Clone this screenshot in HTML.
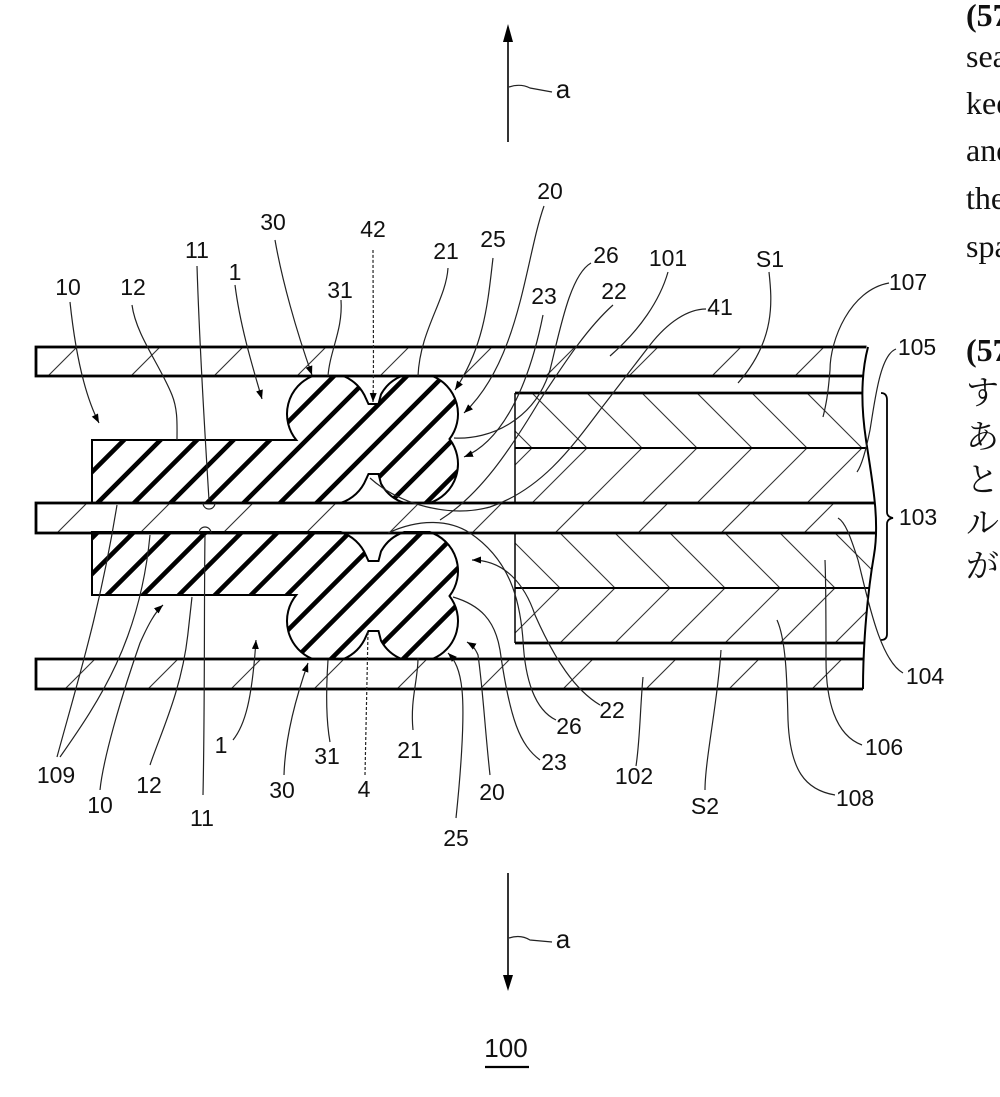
<!DOCTYPE html>
<html><head><meta charset="utf-8"><style>
html,body{margin:0;padding:0;background:#fff;width:1000px;height:1097px;overflow:hidden}
svg{display:block}
.lb{font-family:"Liberation Sans",Arial,sans-serif;font-size:23px;fill:#111;text-anchor:middle}
.ld{fill:none;stroke:#222;stroke-width:1.2}
.ht{stroke:#333;stroke-width:1.1}
.sh{stroke:#000;stroke-width:4.6}
.ol{stroke:#000;stroke-width:2.8;fill:none}
.tx{font-family:"Liberation Serif","Noto Serif CJK SC",serif;font-size:32px;fill:#111}
.jp{font-family:"Noto Serif CJK SC","Noto Sans CJK JP",serif;font-size:33px;fill:#111}
</style></head><body>
<svg width="1000" height="1097" viewBox="0 0 1000 1097" xmlns="http://www.w3.org/2000/svg">
<defs>
<marker id="ar" markerUnits="userSpaceOnUse" markerWidth="10" markerHeight="8" refX="9" refY="4" orient="auto">
<path d="M0,0.5 L9,4 L0,7.5 Z" fill="#000"/>
</marker>
<path id="sealU" d="M92,440 L296.3,440 A41,41 0 0 1 312.6,376 L343.4,376 A41,41 0 0 1 366,398.6 L368.5,404 L378.5,404 L381,394.4 A41,41 0 0 1 401.6,376 L432.4,376 A41,41 0 0 1 449.5,439 A41,41 0 0 1 429.6,503 L404.4,503 A41,41 0 0 1 381,483.6 L378.5,474 L368.5,474 L366,479.4 A41,41 0 0 1 340.6,503 L92,503 Z"/>
<clipPath id="cu"><path d="M92,440 L296.3,440 A41,41 0 0 1 312.6,376 L343.4,376 A41,41 0 0 1 366,398.6 L368.5,404 L378.5,404 L381,394.4 A41,41 0 0 1 401.6,376 L432.4,376 A41,41 0 0 1 449.5,439 A41,41 0 0 1 429.6,503 L404.4,503 A41,41 0 0 1 381,483.6 L378.5,474 L368.5,474 L366,479.4 A41,41 0 0 1 340.6,503 L92,503 Z"/></clipPath>
<clipPath id="cl"><path transform="matrix(1,0,0,-1,0,1035)" d="M92,440 L296.3,440 A41,41 0 0 1 312.6,376 L343.4,376 A41,41 0 0 1 366,398.6 L368.5,404 L378.5,404 L381,394.4 A41,41 0 0 1 401.6,376 L432.4,376 A41,41 0 0 1 449.5,439 A41,41 0 0 1 429.6,503 L404.4,503 A41,41 0 0 1 381,483.6 L378.5,474 L368.5,474 L366,479.4 A41,41 0 0 1 340.6,503 L92,503 Z"/></clipPath>
<clipPath id="cp1"><rect x="36" y="347" width="846" height="29"/></clipPath>
<clipPath id="cp2"><rect x="36" y="503" width="846" height="30"/></clipPath>
<clipPath id="cp3"><rect x="36" y="659" width="846" height="30"/></clipPath>
<clipPath id="cb1"><rect x="515" y="393" width="367" height="110"/></clipPath>
<clipPath id="cb2"><rect x="515" y="533" width="367" height="110"/></clipPath>
</defs>

<!-- plate hatching -->
<g class="ht" clip-path="url(#cp1)">
<line x1="48" y1="376" x2="77" y2="347"/><line x1="131" y1="376" x2="160" y2="347"/><line x1="214" y1="376" x2="243" y2="347"/><line x1="297" y1="376" x2="326" y2="347"/><line x1="380" y1="376" x2="409" y2="347"/><line x1="463" y1="376" x2="492" y2="347"/><line x1="546" y1="376" x2="575" y2="347"/><line x1="629" y1="376" x2="658" y2="347"/><line x1="712" y1="376" x2="741" y2="347"/><line x1="795" y1="376" x2="824" y2="347"/>
</g>
<g class="ht" clip-path="url(#cp2)">
<line x1="57" y1="533" x2="87" y2="503"/><line x1="140" y1="533" x2="170" y2="503"/><line x1="223" y1="533" x2="253" y2="503"/><line x1="306" y1="533" x2="336" y2="503"/><line x1="389" y1="533" x2="419" y2="503"/><line x1="472" y1="533" x2="502" y2="503"/><line x1="555" y1="533" x2="585" y2="503"/><line x1="638" y1="533" x2="668" y2="503"/><line x1="721" y1="533" x2="751" y2="503"/><line x1="804" y1="533" x2="834" y2="503"/>
</g>
<g class="ht" clip-path="url(#cp3)">
<line x1="65" y1="689" x2="95" y2="659"/><line x1="148" y1="689" x2="178" y2="659"/><line x1="231" y1="689" x2="261" y2="659"/><line x1="314" y1="689" x2="344" y2="659"/><line x1="397" y1="689" x2="427" y2="659"/><line x1="480" y1="689" x2="510" y2="659"/><line x1="563" y1="689" x2="593" y2="659"/><line x1="646" y1="689" x2="676" y2="659"/><line x1="729" y1="689" x2="759" y2="659"/><line x1="812" y1="689" x2="842" y2="659"/>
</g>

<!-- block chevron hatching -->
<g class="ht" clip-path="url(#cb1)">
<line x1="477" y1="393" x2="532" y2="448"/><line x1="532" y1="393" x2="587" y2="448"/><line x1="587" y1="393" x2="642" y2="448"/><line x1="642" y1="393" x2="697" y2="448"/><line x1="697" y1="393" x2="752" y2="448"/><line x1="752" y1="393" x2="807" y2="448"/><line x1="807" y1="393" x2="862" y2="448"/>
<line x1="532" y1="448" x2="477" y2="503"/><line x1="587" y1="448" x2="532" y2="503"/><line x1="642" y1="448" x2="587" y2="503"/><line x1="697" y1="448" x2="642" y2="503"/><line x1="752" y1="448" x2="697" y2="503"/><line x1="807" y1="448" x2="752" y2="503"/><line x1="862" y1="448" x2="807" y2="503"/>
</g>
<g class="ht" clip-path="url(#cb2)">
<line x1="505" y1="533" x2="560" y2="588"/><line x1="560" y1="533" x2="615" y2="588"/><line x1="615" y1="533" x2="670" y2="588"/><line x1="670" y1="533" x2="725" y2="588"/><line x1="725" y1="533" x2="780" y2="588"/><line x1="780" y1="533" x2="835" y2="588"/><line x1="835" y1="533" x2="890" y2="588"/>
<line x1="560" y1="588" x2="505" y2="643"/><line x1="615" y1="588" x2="560" y2="643"/><line x1="670" y1="588" x2="615" y2="643"/><line x1="725" y1="588" x2="670" y2="643"/><line x1="780" y1="588" x2="725" y2="643"/><line x1="835" y1="588" x2="780" y2="643"/><line x1="890" y1="588" x2="835" y2="643"/>
</g>

<!-- seals -->
<use href="#sealU" fill="#fff"/>
<use href="#sealU" fill="#fff" transform="matrix(1,0,0,-1,0,1035)"/>
<g class="sh" clip-path="url(#cu)">
<line x1="84.5" y1="370" x2="-55.5" y2="510"/><line x1="121" y1="370" x2="-19" y2="510"/><line x1="157.5" y1="370" x2="17.5" y2="510"/><line x1="194" y1="370" x2="54" y2="510"/><line x1="230.5" y1="370" x2="90.5" y2="510"/><line x1="267" y1="370" x2="127" y2="510"/><line x1="303.5" y1="370" x2="163.5" y2="510"/><line x1="340" y1="370" x2="200" y2="510"/><line x1="376.5" y1="370" x2="236.5" y2="510"/><line x1="413" y1="370" x2="273" y2="510"/><line x1="449.5" y1="370" x2="309.5" y2="510"/><line x1="486" y1="370" x2="346" y2="510"/><line x1="522.5" y1="370" x2="382.5" y2="510"/><line x1="559" y1="370" x2="419" y2="510"/><line x1="595.5" y1="370" x2="455.5" y2="510"/>
</g>
<g class="sh" clip-path="url(#cl)">
<line x1="105" y1="525" x2="-35" y2="665"/><line x1="141" y1="525" x2="1" y2="665"/><line x1="177" y1="525" x2="37" y2="665"/><line x1="213" y1="525" x2="73" y2="665"/><line x1="249" y1="525" x2="109" y2="665"/><line x1="285" y1="525" x2="145" y2="665"/><line x1="321" y1="525" x2="181" y2="665"/><line x1="357" y1="525" x2="217" y2="665"/><line x1="393" y1="525" x2="253" y2="665"/><line x1="429" y1="525" x2="289" y2="665"/><line x1="465" y1="525" x2="325" y2="665"/><line x1="501" y1="525" x2="361" y2="665"/><line x1="537" y1="525" x2="397" y2="665"/><line x1="573" y1="525" x2="433" y2="665"/><line x1="609" y1="525" x2="469" y2="665"/>
</g>
<use href="#sealU" fill="none" stroke="#000" stroke-width="2"/>
<use href="#sealU" fill="none" stroke="#000" stroke-width="2" transform="matrix(1,0,0,-1,0,1035)"/>

<!-- plates -->
<rect x="36" y="347" width="846" height="29" class="ol"/>
<rect x="36" y="503" width="846" height="30" class="ol"/>
<rect x="36" y="659" width="846" height="30" class="ol"/>
<!-- block -->
<g stroke="#000" fill="none">
<line x1="515" y1="393" x2="882" y2="393" stroke-width="2.8"/>
<line x1="515" y1="448" x2="882" y2="448" stroke-width="2"/>
<line x1="515" y1="588" x2="882" y2="588" stroke-width="2"/>
<line x1="515" y1="643" x2="882" y2="643" stroke-width="2.8"/>
<line x1="515" y1="393" x2="515" y2="503" stroke-width="1.5"/>
<line x1="515" y1="533" x2="515" y2="643" stroke-width="1.5"/>
</g>
<!-- break mask -->
<path d="M868,338 C862,370 860,400 866,440 C872,480 880,520 874,555 C868,590 863,640 863,698 L884,698 L884,338 Z" fill="#fff"/>
<path d="M868,347 C862,370 860,400 866,440 C872,480 880,520 874,555 C868,590 863,640 863,689" fill="none" stroke="#000" stroke-width="2"/>
<!-- bracket 103 -->
<path d="M881,393 Q887,393 887,400 L887,512 Q887,517 893,518 Q887,519 887,524 L887,634 Q887,640 881,640" fill="none" stroke="#000" stroke-width="1.8"/>

<!-- leaders -->
<g class="ld">
<path d="M70,302 C74,340 82,390 99,423" marker-end="url(#ar)"/>
<path d="M132,305 C136,335 160,365 172,395 C178,410 177,425 177,440"/>
<path d="M197,266 C199,330 204,420 209,500"/>
<path d="M203,503 A6,6 0 0 0 215,503"/>
<path d="M235,285 C240,325 252,365 262,399" marker-end="url(#ar)"/>
<path d="M275,240 C282,280 296,330 312,375" marker-end="url(#ar)"/>
<path d="M341,300 C343,330 330,350 328,376"/>
<path d="M373,250 C373,300 374,360 373,402" stroke-dasharray="3,2" marker-end="url(#ar)"/>
<path d="M448,268 C446,300 420,330 418,376"/>
<path d="M493,258 C488,300 485,345 455,390" marker-end="url(#ar)"/>
<path d="M544,206 C525,260 520,360 464,413" marker-end="url(#ar)"/>
<path d="M543,315 C530,380 505,440 464,457" marker-end="url(#ar)"/>
<path d="M591,263 C570,275 560,330 550,370 C535,420 490,440 454,438"/>
<path d="M613,305 C585,330 560,370 540,400 C510,450 480,495 440,520"/>
<path d="M706,309 C688,309 668,322 650,345 L600,410 C570,450 540,490 490,507 C450,518 400,505 370,478"/>
<path d="M668,272 C660,300 640,330 610,356"/>
<path d="M769,272 C772,300 776,340 738,383"/>
<path d="M889,283 C850,290 830,340 830,370 C828,395 826,405 823,417"/>
<path d="M896,349 C880,355 875,400 870,430 C866,450 862,465 857,472"/>
<path d="M903,673 C880,660 868,600 858,560 C850,535 845,522 838,518"/>
<path d="M862,745 C835,735 826,700 826,660 C826,620 826,585 825,560"/>
<path d="M835,795 C805,790 790,770 788,720 C787,680 786,640 777,620"/>
<path d="M705,790 C705,760 718,700 721,650"/>
<path d="M636,766 C640,740 640,710 643,677"/>
<path d="M600,705 C575,690 555,660 535,615 C525,585 505,560 472,560" marker-end="url(#ar)"/>
<path d="M556,720 C535,710 525,680 523,640 C520,600 510,560 470,533 C450,520 420,518 388,533"/>
<path d="M540,760 C520,745 510,720 500,650 C495,620 480,605 453,597"/>
<path d="M490,775 C485,730 483,690 478,655 C475,648 472,645 467,642" marker-end="url(#ar)"/>
<path d="M456,818 C460,780 465,720 462,690 C460,670 455,660 448,653" marker-end="url(#ar)"/>
<path d="M413,730 C410,700 418,680 418,658"/>
<path d="M365,775 L368,632" stroke-dasharray="3,2"/>
<path d="M330,742 C326,720 326,690 328,660"/>
<path d="M284,775 C285,740 295,700 308,663" marker-end="url(#ar)"/>
<path d="M233,740 C245,725 252,700 256,640" marker-end="url(#ar)"/>
<path d="M203,795 C205,700 204,600 205,535"/>
<path d="M199,533 A6,6 0 0 1 211,533"/>
<path d="M150,765 C160,735 182,690 188,633 C190,615 191,605 192,597"/>
<path d="M100,790 C103,760 120,700 140,643 C148,625 155,612 163,605" marker-end="url(#ar)"/>
<path d="M57,757 C78,680 100,610 117,505"/>
<path d="M60,757 C100,700 140,640 150,535"/>
</g>

<!-- a arrows -->
<line x1="508" y1="40" x2="508" y2="142" stroke="#000" stroke-width="1.6"/>
<polygon points="508,24 503,42 513,42" fill="#000"/>
<path d="M509,87 C515,85 522,84 530,88 L552,92" fill="none" stroke="#222" stroke-width="1.2"/>
<line x1="508" y1="873" x2="508" y2="977" stroke="#000" stroke-width="1.6"/>
<polygon points="508,991 503,975 513,975" fill="#000"/>
<path d="M509,938 C515,936 522,935 530,940 L552,942" fill="none" stroke="#222" stroke-width="1.2"/>

<!-- labels -->
<g class="lb">
<text x="563" y="98" font-size="26">a</text>
<text x="563" y="948" font-size="26">a</text>
<text x="506" y="1057" font-size="26">100</text>
<text x="68" y="295">10</text>
<text x="133" y="295">12</text>
<text x="197" y="258">11</text>
<text x="235" y="280">1</text>
<text x="273" y="230">30</text>
<text x="340" y="298">31</text>
<text x="373" y="237">42</text>
<text x="446" y="259">21</text>
<text x="493" y="247">25</text>
<text x="550" y="199">20</text>
<text x="544" y="304">23</text>
<text x="606" y="263">26</text>
<text x="614" y="299">22</text>
<text x="668" y="266">101</text>
<text x="720" y="315">41</text>
<text x="770" y="267">S1</text>
<text x="908" y="290">107</text>
<text x="917" y="355">105</text>
<text x="918" y="525">103</text>
<text x="925" y="684">104</text>
<text x="56" y="783">109</text>
<text x="100" y="813">10</text>
<text x="149" y="793">12</text>
<text x="202" y="826">11</text>
<text x="221" y="753">1</text>
<text x="282" y="798">30</text>
<text x="327" y="764">31</text>
<text x="364" y="797">4</text>
<text x="410" y="758">21</text>
<text x="456" y="846">25</text>
<text x="492" y="800">20</text>
<text x="554" y="770">23</text>
<text x="569" y="734">26</text>
<text x="612" y="718">22</text>
<text x="634" y="784">102</text>
<text x="705" y="814">S2</text>
<text x="855" y="806">108</text>
<text x="884" y="755">106</text>
</g>
<line x1="485" y1="1067" x2="529" y2="1067" stroke="#000" stroke-width="2.2"/>

<!-- right text column (clipped at page edge) -->
<g class="tx">
<text x="966" y="26" font-weight="bold">(57) Abstract</text>
<text x="966" y="67">sealing</text>
<text x="966" y="114">keeping</text>
<text x="966" y="161">and</text>
<text x="966" y="209">the</text>
<text x="966" y="257">space</text>
<text x="966" y="361" font-weight="bold">(57)【要約】</text>
</g>
<g class="jp">
<text x="966" y="404">するシール</text>
<text x="966" y="448">あるもの</text>
<text x="966" y="491">とシール</text>
<text x="966" y="534">ルと</text>
<text x="966" y="577">がある</text>
</g>
</svg>
</body></html>
